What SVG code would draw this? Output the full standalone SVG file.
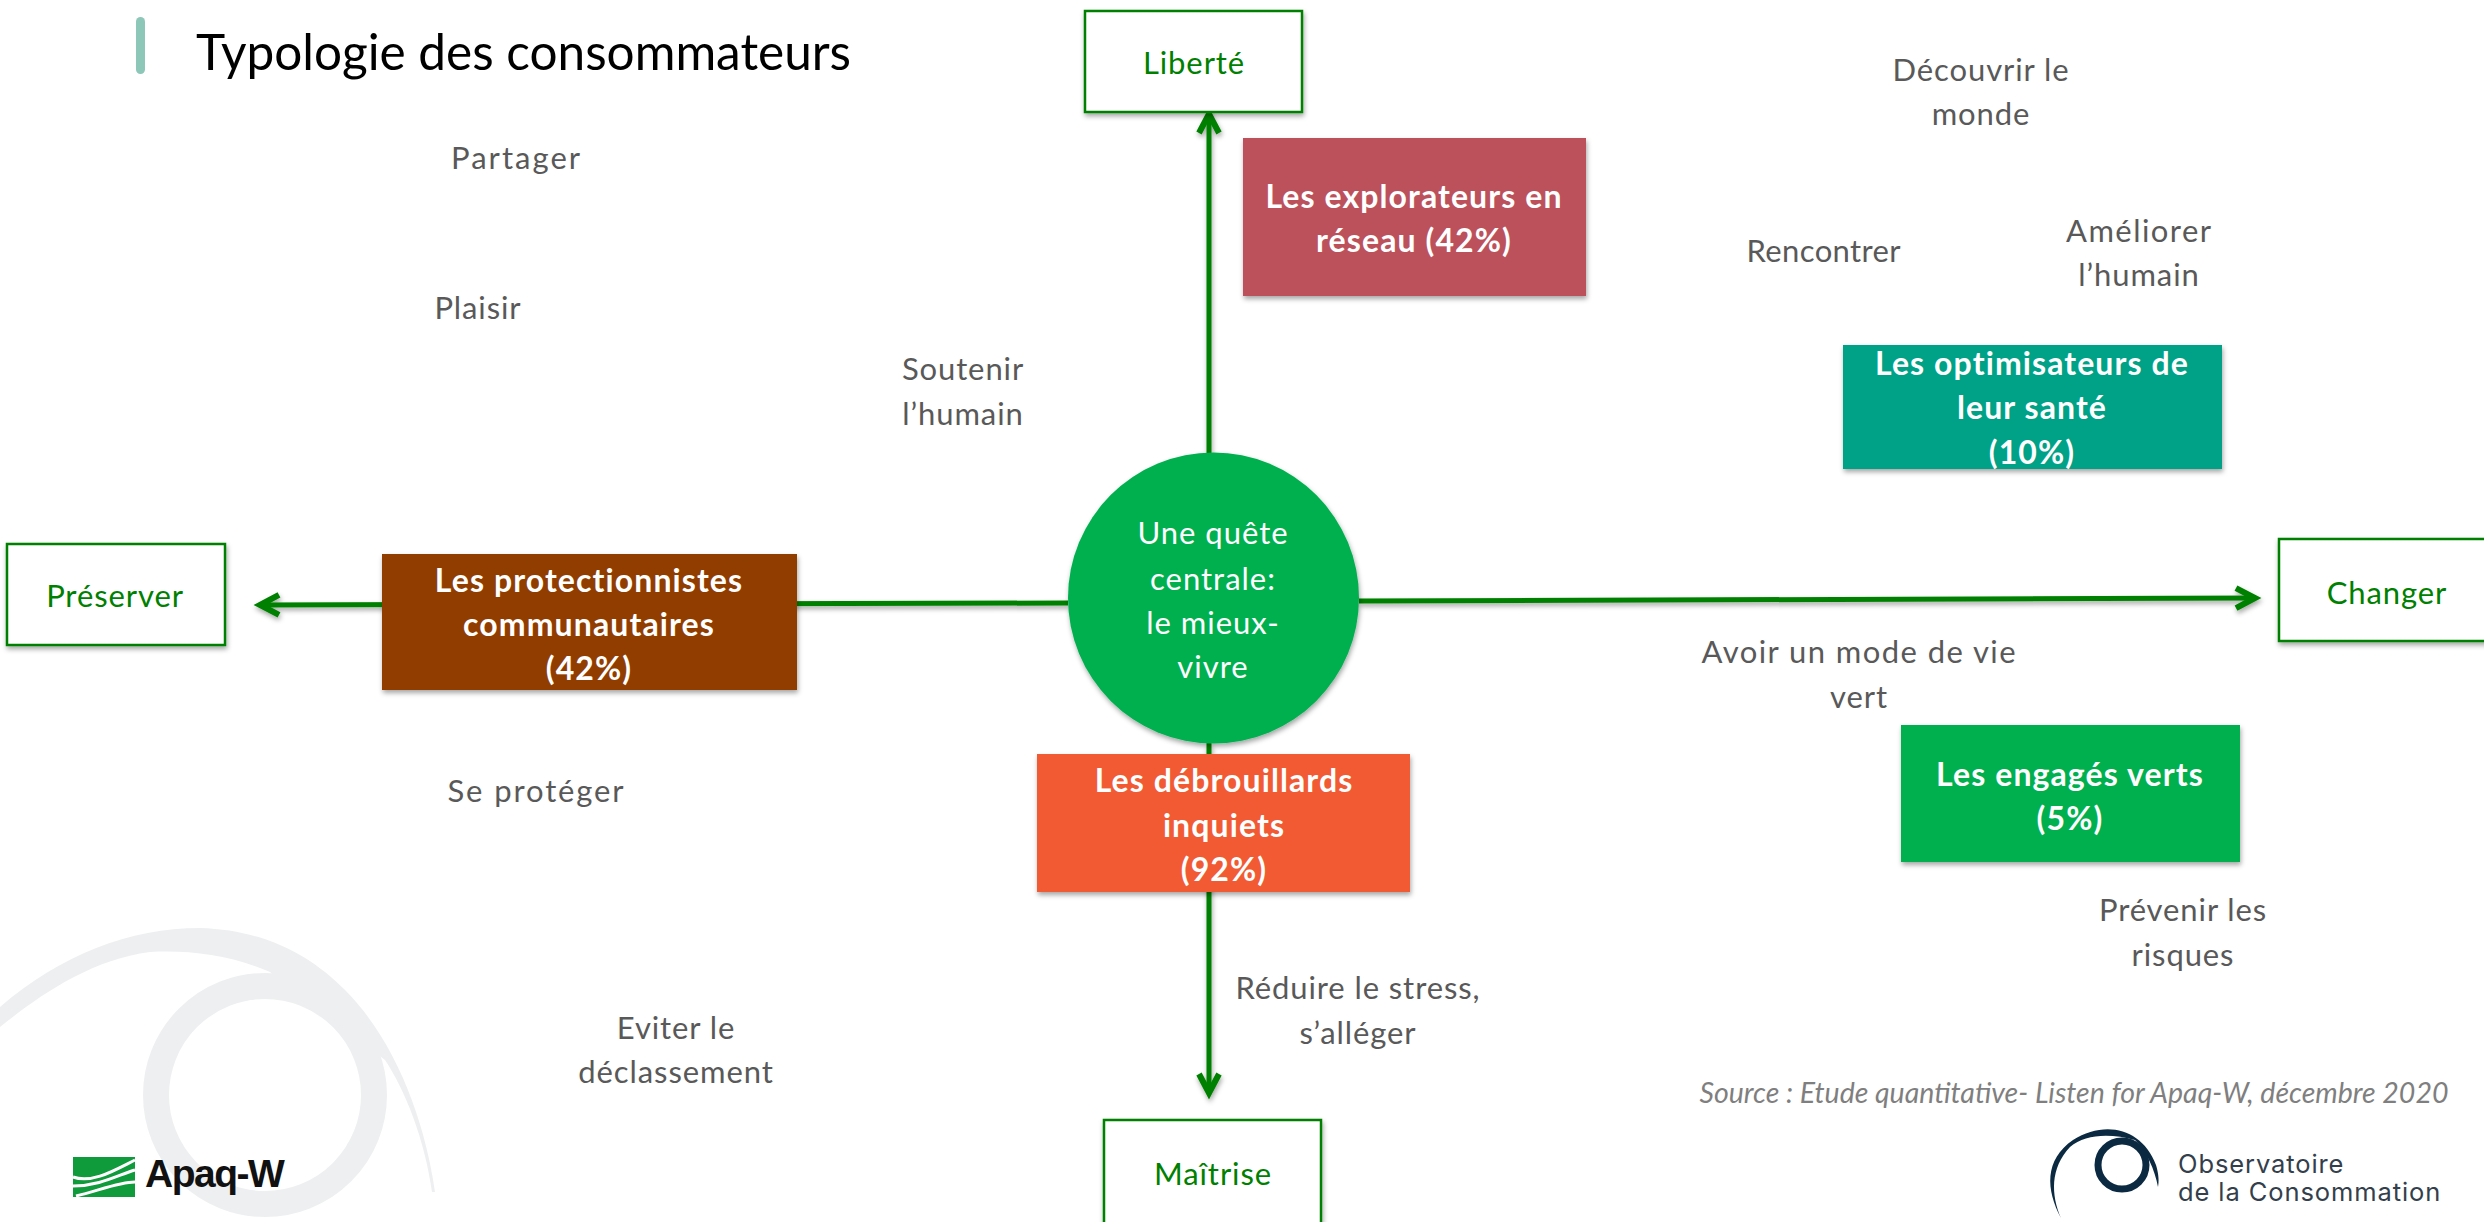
<svg xmlns="http://www.w3.org/2000/svg" width="2484" height="1222" viewBox="0 0 2484 1222">
<style>
text{font-family:"Lato","Open Sans",sans-serif;text-anchor:middle}
.l{font-size:31px;fill:#595959;letter-spacing:.9px}
.b{font-size:32px;fill:#fff;font-weight:700;letter-spacing:1.1px}
.a{font-size:31px;fill:#008000;letter-spacing:.9px}
.c{font-size:31px;fill:#fff;letter-spacing:1px}
.ax{fill:#fff;stroke:#008000;stroke-width:2.500;filter:url(#sh)}
.cn{stroke:#008000;stroke-width:5;fill:none;marker-end:url(#ah)}
.box{filter:url(#sh)}
</style>
<defs>
<marker id="ah" markerUnits="userSpaceOnUse" markerWidth="30" markerHeight="30" refX="24" refY="12" orient="auto" viewBox="0 0 30 24"><path d="M4 2L23 12L4 22" fill="none" stroke="#008000" stroke-width="6"/></marker>
<filter id="sh" x="-10%" y="-10%" width="120%" height="130%"><feDropShadow dx="1" dy="3" stdDeviation="2.500" flood-color="#000" flood-opacity=".35"/></filter>
</defs>
<rect width="2484" height="1222" fill="#fff"/>
<g id="watermark" fill="none" stroke="#eeeff1">
<path d="M0 1007C60 955 130 928 200 928C265 930 310 955 345 990C395 1040 425 1120 435 1192L432 1192C425 1140 405 1090 385 1060L270 972C230 955 190 950 150 952C90 960 40 995 0 1027Z" fill="#eeeff1" stroke="none"/>
<circle cx="265" cy="1095" r="109" stroke-width="26"/>
</g>
<g id="title">
<rect x="136" y="17" width="9" height="57" rx="4.500" fill="#8cc7b7"/>
<text x="196" y="70" style="text-anchor:start;font-size:49.500px;fill:#000">Typologie des consommateurs</text>
</g>
<g id="connectors" filter="url(#sh)">
<path class="cn" d="M1209 453V113"/>
<path class="cn" d="M1209 743V1094"/>
<path class="cn" d="M1068 603L259 605"/>
<path class="cn" d="M1359 601L2256 598"/>
</g>
<g id="node-liberte"><rect class="ax" x="1085" y="11" width="217" height="101"/><text class="a" x="1194" y="74">Liberté</text></g>
<g id="node-preserver"><rect class="ax" x="7" y="544" width="218" height="101"/><text class="a" x="115" y="607">Préserver</text></g>
<g id="node-changer"><rect class="ax" x="2279" y="539" width="210" height="102"/><text class="a" x="2387" y="604">Changer</text></g>
<g id="node-maitrise"><rect class="ax" x="1104" y="1120" width="217" height="104"/><text class="a" x="1213" y="1185">Maîtrise</text></g>
<g id="node-centre"><circle class="box" cx="1213.500" cy="598" r="145.500" fill="#00b050"/>
<text class="c" x="1213" y="544">Une quête</text><text class="c" x="1213" y="590">centrale:</text><text class="c" x="1213" y="634">le mieux-</text><text class="c" x="1213" y="678">vivre</text></g>
<g id="node-explorateurs"><rect class="box" x="1243" y="138" width="343" height="158" fill="#bc515c"/><text class="b" x="1414" y="208">Les explorateurs en</text><text class="b" x="1414" y="252">réseau (42%)</text></g>
<g id="node-optimisateurs"><rect class="box" x="1843" y="345" width="379" height="124" fill="#00a287"/><text class="b" x="2032" y="375">Les optimisateurs de</text><text class="b" x="2032" y="419">leur santé</text><text class="b" x="2032" y="464">(10%)</text></g>
<g id="node-engages"><rect class="box" x="1901" y="725" width="339" height="137" fill="#00b050"/><text class="b" x="2070" y="786">Les engagés verts</text><text class="b" x="2070" y="830">(5%)</text></g>
<g id="node-debrouillards"><rect class="box" x="1037" y="754" width="373" height="138" fill="#f15a32"/><text class="b" x="1224" y="792">Les débrouillards</text><text class="b" x="1224" y="837">inquiets</text><text class="b" x="1224" y="881">(92%)</text></g>
<g id="node-protectionnistes"><rect class="box" x="382" y="554" width="415" height="136" fill="#923e00"/><text class="b" x="589" y="592">Les protectionnistes</text><text class="b" x="589" y="636">communautaires</text><text class="b" x="589" y="680">(42%)</text></g>
<g id="labels">
<text class="l" x="516" y="169" textLength="130">Partager</text>
<text class="l" x="478" y="319">Plaisir</text>
<text class="l" x="963" y="380">Soutenir</text><text class="l" x="963" y="425">l’humain</text>
<text class="l" x="536" y="802" textLength="177">Se protéger</text>
<text class="l" x="676" y="1039">Eviter le</text><text class="l" x="676" y="1083">déclassement</text>
<text class="l" x="1981" y="81">Découvrir le</text><text class="l" x="1981" y="125">monde</text>
<text class="l" x="1824" y="262" textLength="155">Rencontrer</text>
<text class="l" x="2139" y="242" textLength="146">Améliorer</text><text class="l" x="2139" y="286">l’humain</text>
<text class="l" x="1859" y="663" textLength="315">Avoir un mode de vie</text><text class="l" x="1859" y="708">vert</text>
<text class="l" x="2183" y="921">Prévenir les</text><text class="l" x="2183" y="966">risques</text>
<text class="l" x="1358" y="999">Réduire le stress,</text><text class="l" x="1358" y="1044">s’alléger</text>
<text x="2074" y="1103" style="font-family:Lato,sans-serif;font-style:italic;font-size:28.500px;fill:#7f7f7f">Source : Etude quantitative- Listen for Apaq-W, décembre 2020</text>
</g>
<g id="logo-apaq">
<rect x="73" y="1157" width="62" height="40" fill="#0f9a3c"/>
<path d="M73 1177C92 1184 115 1170 135 1160M73 1186C100 1186 118 1175 135 1170M76 1196C100 1190 120 1182 135 1182" stroke="#fff" stroke-width="3" fill="none"/>
<text x="145" y="1187" style="text-anchor:start;font-family:'Liberation Sans',sans-serif;font-weight:700;font-size:39px;fill:#111;letter-spacing:-1.500px">Apaq-W</text>
</g>
<g id="logo-observatoire">
<path d="M2061 1218C2046 1190 2044 1160 2073 1140C2105 1120 2142 1128 2156 1165C2159 1175 2159 1182 2158 1187C2155 1170 2146 1150 2135 1140C2110 1133 2085 1134 2070 1147C2050 1168 2051 1195 2061 1218Z" fill="#0b2a42"/>
<circle cx="2122" cy="1165" r="24" fill="none" stroke="#0b2a42" stroke-width="7"/>
<text x="2178" y="1173" style="text-anchor:start;font-family:Inter,sans-serif;font-size:25.500px;letter-spacing:.9px;fill:#33404c">Observatoire</text>
<text x="2178" y="1201" style="text-anchor:start;font-family:Inter,sans-serif;font-size:25.500px;letter-spacing:.9px;fill:#33404c">de la Consommation</text>
</g>
</svg>
